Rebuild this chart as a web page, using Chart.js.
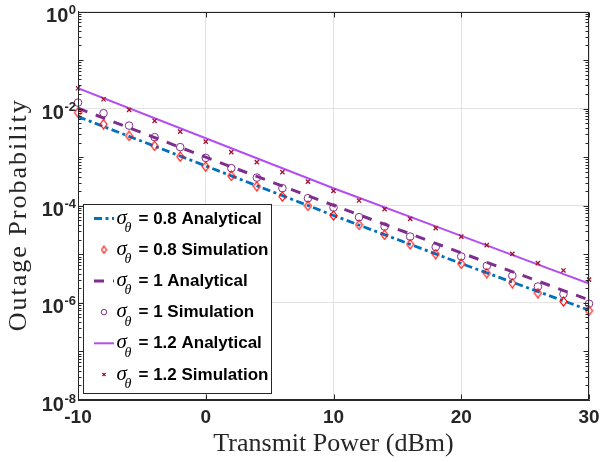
<!DOCTYPE html>
<html><head><meta charset="utf-8">
<script src="https://cdn.jsdelivr.net/npm/chart.js@4/dist/chart.umd.min.js"></script>
<style>html,body{margin:0;padding:0;background:#fff;}canvas{display:block;}</style>
</head><body>
<canvas id="c" width="600" height="462"></canvas>
<script>
// ---- data ----
const powerSim = [-10,-8,-6,-4,-2,0,2,4,6,8,10,12,14,16,18,20,22,24,26,28,30];
const powerAna = [-10,0,10,20,30];
const ana08 = [6.84e-3, 6.61e-4, 6.31e-5, 6.46e-6, 7.08e-7];
const ana10 = [1.02e-2, 1.0e-3, 1.02e-4, 1.07e-5, 1.15e-6];
const ana12 = [2.63e-2, 2.45e-3, 2.29e-4, 2.40e-5, 2.51e-6];
const sim08 = [8.28e-3,4.78e-3,2.74e-3,1.71e-3,1.03e-3,6.41e-4,4.12e-4,2.52e-4,1.55e-4,9.95e-5,6.31e-5,4.05e-5,2.52e-5,1.62e-5,1.01e-5,6.38e-6,4.10e-6,2.55e-6,1.59e-6,1.07e-6,6.87e-7];
const sim10 = [1.33e-2,8.04e-3,4.47e-3,2.58e-3,1.61e-3,9.68e-4,5.94e-4,3.80e-4,2.30e-4,1.43e-4,9.18e-5,5.82e-5,3.73e-5,2.32e-5,1.41e-5,9.02e-6,5.79e-6,3.61e-6,2.17e-6,1.52e-6,9.6e-7];
const sim12 = [2.63e-2,1.56e-2,9.4e-3,5.58e-3,3.37e-3,2.09e-3,1.27e-3,7.89e-4,4.91e-4,3.15e-4,2.03e-4,1.28e-4,8.5e-5,5.37e-5,3.46e-5,2.32e-5,1.55e-5,1.02e-5,6.6e-6,4.65e-6,3.02e-6];
const xTickValues = [-10,0,10,20,30];
const yTickValues = [1e-8,1e-6,1e-4,1e-2,1];
const legendLabels = ['= 0.8 Analytical','= 0.8 Simulation','= 1 Analytical','= 1 Simulation','= 1.2 Analytical','= 1.2 Simulation'];
const xTitle = 'Transmit Power (dBm)';
const yTitle = 'Outage Probability';

const C_BLUE = '#0072BD', C_PURP = '#7E2F8E', C_VIOL = '#B44EF3', C_RED = '#FF0000', C_XRED = '#A2142F', C_AX = '#262626';

function diamond(w, h, color){
  const c = document.createElement('canvas');
  c.width = w + 2; c.height = h + 2;
  const g = c.getContext('2d');
  g.strokeStyle = color; g.lineWidth = 1.1;
  const cx = c.width/2, cy = c.height/2;
  g.beginPath(); g.moveTo(cx, cy-h/2); g.lineTo(cx+w/2, cy); g.lineTo(cx, cy+h/2); g.lineTo(cx-w/2, cy); g.closePath(); g.stroke();
  return c;
}
const diaPlot = diamond(7, 9, C_RED);
const diaLeg = diamond(5, 7, C_RED);

const pts = (xs, ys) => xs.map((x,i)=>({x, y: ys[i]}));

const datasets = [
  {data: pts(powerAna, ana08), showLine:true, borderColor:C_BLUE, borderWidth:2.8, borderDash:[8,3.5,3,3.5], pointRadius:0, order:1},
  {data: pts(powerSim, sim08), showLine:false, pointStyle:diaPlot, pointRadius:4, borderColor:C_RED, clip:false, order:0},
  {data: pts(powerAna, ana10), showLine:true, borderColor:C_PURP, borderWidth:3, borderDash:[10,9], pointRadius:0, order:1},
  {data: pts(powerSim, sim10), showLine:false, pointStyle:'circle', pointRadius:3.8, borderWidth:1, borderColor:C_PURP, backgroundColor:'rgba(0,0,0,0)', clip:false, order:0},
  {data: pts(powerAna, ana12), showLine:true, borderColor:C_VIOL, borderWidth:2, pointRadius:0, order:1},
  {data: pts(powerSim, sim12), showLine:false, pointStyle:'crossRot', pointRadius:3, borderWidth:1.3, borderColor:C_XRED, clip:false, order:0}
];

function seg(ctx,x1,y1,x2,y2){ctx.beginPath();ctx.moveTo(x1,y1);ctx.lineTo(x2,y2);ctx.stroke();}

const framePlugin = {
  id:'frame',
  afterDraw(chart){
    const {ctx, chartArea:a, scales:{x, y}} = chart;
    ctx.save();
    ctx.strokeStyle = C_AX; ctx.lineWidth = 1;
    const L = Math.round(a.left)+0.5, R = Math.round(a.right)-0.5, T = Math.round(a.top)+0.5, B = Math.round(a.bottom)-0.5;
    ctx.strokeRect(L, T, R-L, B-T);
    xTickValues.forEach(v=>{ const p = Math.round(x.getPixelForValue(v))+0.5; seg(ctx,p,B,p,B-5); seg(ctx,p,T,p,T+5); });
    for (let k=-8;k<=0;k++){
      for (let m=1;m<=9;m++){
        const v = m*Math.pow(10,k); if (v>1) break;
        const p = Math.round(y.getPixelForValue(v))+0.5;
        const len = m===1 ? 5 : 3;
        seg(ctx,L,p,L+len,p); seg(ctx,R,p,R-len,p);
      }
    }
    // y tick labels 10^k
    ctx.fillStyle = C_AX; ctx.textAlign = 'right'; ctx.textBaseline = 'middle';
    yTickValues.forEach(v=>{
      const p = y.getPixelForValue(v);
      const e = String(Math.round(Math.log10(v)));
      ctx.font = 'bold 13px "Liberation Sans"';
      const ew = ctx.measureText(e).width;
      ctx.fillText(e, 76, p-1);
      ctx.font = 'bold 20px "Liberation Sans"';
      ctx.fillText('10', 76-ew-0.5, p+5);
    });
    // y title (drawn with slight letter spacing to match the reference length)
    ctx.save();
    ctx.translate(19, (a.top + a.bottom)/2 + 9);
    ctx.rotate(-Math.PI/2);
    ctx.font = '26px "Liberation Serif"';
    ctx.letterSpacing = '2px';
    ctx.textAlign = 'center'; ctx.textBaseline = 'middle';
    ctx.fillStyle = C_AX;
    ctx.fillText(yTitle, 0, 0);
    ctx.restore();
    // legend
    const bx = Math.round(a.left)+5.5, by = 204.5, bw = 188, bh = 189;
    ctx.fillStyle = '#fff'; ctx.fillRect(bx, by, bw, bh);
    ctx.strokeStyle = C_AX; ctx.strokeRect(bx, by, bw, bh);
    const ds = chart.data.datasets;
    legendLabels.forEach((lab,i)=>{
      const cy = by + 14 + i*31.2;
      const d = ds[i];
      ctx.save();
      if (d.showLine){
        ctx.strokeStyle = d.borderColor; ctx.lineWidth = d.borderWidth; ctx.setLineDash(d.borderDash||[]);
        seg(ctx, bx+10.5, cy, bx+30.5, cy);
      } else {
        ctx.strokeStyle = d.borderColor; ctx.fillStyle = 'rgba(0,0,0,0)'; ctx.lineWidth = d.borderWidth||1;
        const st = d.pointStyle === diaPlot ? diaLeg : d.pointStyle;
        Chart.helpers.drawPoint(ctx, {pointStyle: st, radius: d.pointRadius*0.72, rotation:0, borderWidth: d.borderWidth||1}, bx+20.5, cy);
      }
      ctx.restore();
      ctx.fillStyle = '#000'; ctx.textAlign = 'left';
      ctx.textBaseline = 'alphabetic';
      ctx.font = 'italic 21px "Liberation Serif"';
      ctx.fillText('σ', bx+33, cy+5);
      ctx.font = 'italic 14px "Liberation Serif"';
      ctx.fillText('θ', bx+41, cy+13.5);
      ctx.font = 'bold 17px "Liberation Sans"';
      ctx.textBaseline = 'middle';
      ctx.fillText(lab, bx+55, cy+0.5);
    });
    ctx.restore();
  }
};

new Chart(document.getElementById('c'), {
  type:'scatter',
  data:{datasets},
  options:{
    responsive:false, devicePixelRatio:1, animation:false,
    layout:{padding:{top:11.5, right:11, left:0, bottom:0}},
    plugins:{legend:{display:false}, tooltip:{enabled:false}},
    scales:{
      x:{type:'linear', min:-10, max:30,
        afterBuildTicks:s=>{s.ticks = xTickValues.map(v=>({value:v}));},
        ticks:{font:{family:'Liberation Sans', size:19, weight:'bold'}, color:C_AX, padding:6, maxRotation:0, autoSkip:false, callback:v=>String(v)},
        grid:{color:'#e2e2e2', drawTicks:false},
        border:{display:true, color:C_AX},
        title:{display:true, text:xTitle, font:{family:'Liberation Serif', size:26}, color:C_AX, padding:{top:0, bottom:2}},
        afterFit:s=>{s.height = 62; s.paddingLeft = 0; s.paddingRight = 0;}
      },
      y:{type:'logarithmic', min:1e-8, max:1,
        afterBuildTicks:s=>{s.ticks = yTickValues.map(v=>({value:v}));},
        ticks:{display:false},
        grid:{color:'#e2e2e2', drawTicks:false},
        border:{display:true, color:C_AX},
        title:{display:false, text:yTitle},
        afterFit:s=>{s.width = 78; s.paddingTop = 0; s.paddingBottom = 0;}
      }
    }
  },
  plugins:[framePlugin]
});
</script>
</body></html>
